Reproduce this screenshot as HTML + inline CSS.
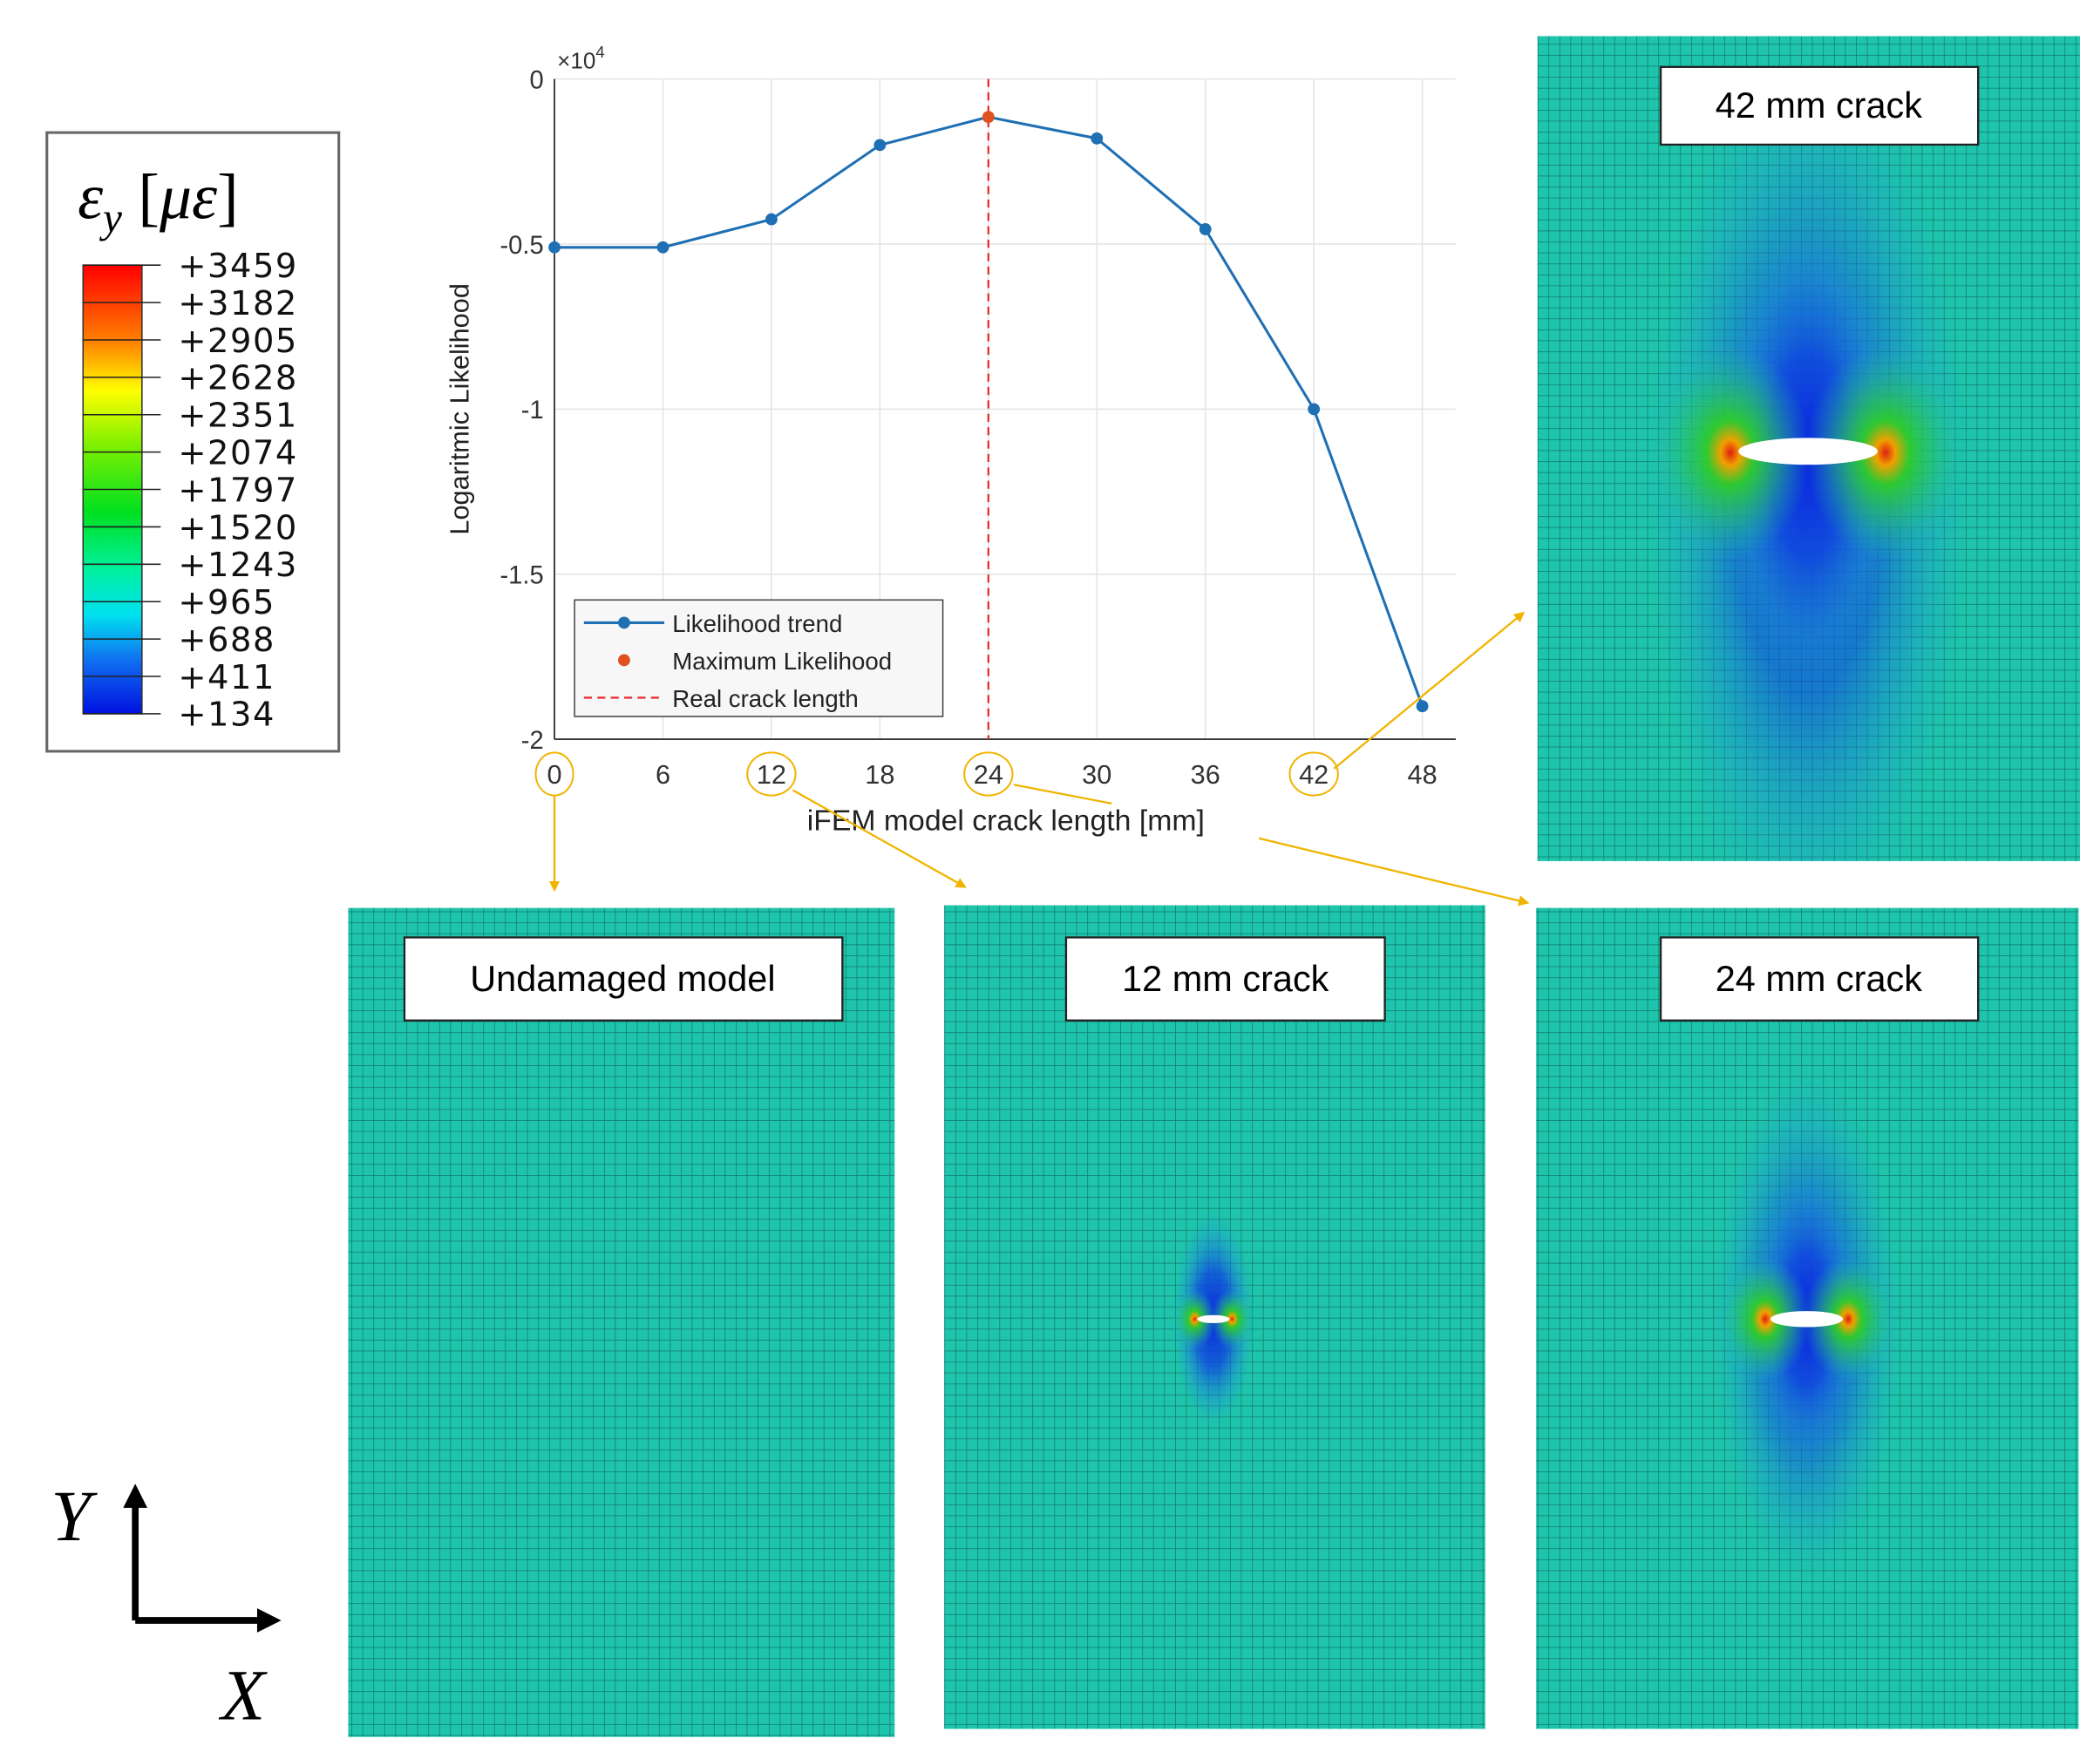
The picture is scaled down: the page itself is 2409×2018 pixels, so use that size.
<!DOCTYPE html>
<html><head><meta charset="utf-8"><style>
html,body{margin:0;padding:0;background:#fff;}
svg{display:block;}
</style></head><body>
<svg id="root" width="2409" height="2018" viewBox="0 0 1568 1313.5" xmlns="http://www.w3.org/2000/svg" style="font-family:'Liberation Sans',sans-serif">
<defs>
<pattern id="mesh" width="8.2" height="8.2" patternUnits="userSpaceOnUse">
<rect width="8.2" height="8.2" fill="#1ec4ac"/>
<path d="M0 0H8.2M0 0V8.2" stroke="#0f7868" stroke-width="0.9" fill="none"/>
</pattern>
<clipPath id="clip42"><rect x="1148" y="27" width="405" height="616"/></clipPath>
<clipPath id="clip24"><rect x="1147" y="678" width="405" height="613"/></clipPath>
<radialGradient id="blueG"><stop offset="0" stop-color="#0a20e0" stop-opacity="0.95"/><stop offset="0.45" stop-color="#1048e0" stop-opacity="0.8"/><stop offset="0.8" stop-color="#2090d8" stop-opacity="0.35"/><stop offset="1" stop-color="#20a0d0" stop-opacity="0"/></radialGradient>
<radialGradient id="lobeG"><stop offset="0" stop-color="#e02010"/><stop offset="0.12" stop-color="#f0a000"/><stop offset="0.3" stop-color="#30d020" stop-opacity="0.9"/><stop offset="1" stop-color="#20c8a0" stop-opacity="0"/></radialGradient>
<linearGradient id="cbar" x1="0" y1="0" x2="0" y2="1">
<stop offset="0" stop-color="#ff0000"/><stop offset="0.17" stop-color="#ff8000"/><stop offset="0.28" stop-color="#ffff00"/><stop offset="0.4" stop-color="#80f000"/><stop offset="0.55" stop-color="#00e020"/><stop offset="0.68" stop-color="#00f0a0"/><stop offset="0.78" stop-color="#00e0f0"/><stop offset="0.88" stop-color="#1070f0"/><stop offset="1" stop-color="#0010e0"/>
</linearGradient>
<marker id="arr" markerWidth="8" markerHeight="8" refX="6" refY="4" orient="auto" markerUnits="userSpaceOnUse"><path d="M0 0L8 4L0 8z" fill="#f0b400"/></marker>
</defs>

<g>
<rect x="35" y="99" width="218" height="462" fill="#fff" stroke="#666" stroke-width="2"/>
<text x="58" y="163" style="font-family:'Liberation Serif',serif;font-style:italic;font-size:48px">ε<tspan style="font-size:32px" dy="10">y</tspan><tspan dy="-10" style="font-style:normal"> [</tspan>με<tspan style="font-style:normal">]</tspan></text>
<rect x="62" y="198" width="44" height="335" fill="url(#cbar)" stroke="#333" stroke-width="1"/>
<g id="cbticks"></g>
</g>

<g id="chart"></g>

<g>
<rect x="1148" y="27" width="405" height="616" fill="url(#mesh)"/>
<g clip-path="url(#clip42)">
<ellipse cx="1350" cy="370" rx="120" ry="330" fill="url(#blueG)" opacity="0.75"/>
<ellipse cx="1350" cy="340" rx="65" ry="170" fill="url(#blueG)"/>
<ellipse cx="1292" cy="338" rx="60" ry="80" fill="url(#lobeG)"/>
<ellipse cx="1408" cy="338" rx="60" ry="80" fill="url(#lobeG)"/>
</g>
<ellipse cx="1350" cy="337" rx="52" ry="10" fill="#fff"/>
<rect x="1240" y="50" width="237" height="58" fill="#fff" stroke="#222" stroke-width="1.5"/>
<text x="1358" y="88" style="font-size:27px" text-anchor="middle">42 mm crack</text>
</g>
<g>
<rect x="260" y="678" width="408" height="619" fill="url(#mesh)"/>
<rect x="302" y="700" width="327" height="62" fill="#fff" stroke="#222" stroke-width="1.5"/>
<text x="465" y="740" style="font-size:27px" text-anchor="middle">Undamaged model</text>
</g>
<g>
<rect x="705" y="676" width="404" height="615" fill="url(#mesh)"/>
<ellipse cx="906" cy="985" rx="30" ry="80" fill="url(#blueG)"/>
<ellipse cx="892" cy="985" rx="16" ry="22" fill="url(#lobeG)"/>
<ellipse cx="920" cy="985" rx="16" ry="22" fill="url(#lobeG)"/>
<ellipse cx="906" cy="985" rx="12" ry="3" fill="#fff"/>
<rect x="796" y="700" width="238" height="62" fill="#fff" stroke="#222" stroke-width="1.5"/>
<text x="915" y="740" style="font-size:27px" text-anchor="middle">12 mm crack</text>
</g>
<g>
<rect x="1147" y="678" width="405" height="613" fill="url(#mesh)"/>
<g clip-path="url(#clip24)">
<ellipse cx="1349" cy="990" rx="70" ry="190" fill="url(#blueG)" opacity="0.75"/>
<ellipse cx="1349" cy="985" rx="40" ry="110" fill="url(#blueG)"/>
<ellipse cx="1318" cy="985" rx="34" ry="46" fill="url(#lobeG)"/>
<ellipse cx="1380" cy="985" rx="34" ry="46" fill="url(#lobeG)"/>
</g>
<ellipse cx="1349" cy="985" rx="27" ry="6" fill="#fff"/>
<rect x="1240" y="700" width="237" height="62" fill="#fff" stroke="#222" stroke-width="1.5"/>
<text x="1358" y="740" style="font-size:27px" text-anchor="middle">24 mm crack</text>
</g>

<g stroke="#f0b400" stroke-width="1.5" fill="none">
<line x1="414" y1="594" x2="414" y2="664" marker-end="url(#arr)"/>
<line x1="592" y1="590" x2="720" y2="662" marker-end="url(#arr)"/>
<line x1="757" y1="586" x2="830" y2="600"/>
<line x1="940" y1="626" x2="1140" y2="674" marker-end="url(#arr)"/>
<line x1="996" y1="574" x2="1137" y2="458" marker-end="url(#arr)"/>
</g>

<g>
<line x1="101" y1="1210" x2="101" y2="1122" stroke="#000" stroke-width="5"/>
<path d="M101 1108L92 1126L110 1126z" fill="#000"/>
<line x1="101" y1="1210" x2="195" y2="1210" stroke="#000" stroke-width="5"/>
<path d="M210 1210L192 1201L192 1219z" fill="#000"/>
<text x="38" y="1150" style="font-family:'Liberation Serif',serif;font-style:italic;font-size:54px">Y</text>
<text x="165" y="1284" style="font-family:'Liberation Serif',serif;font-style:italic;font-size:54px">X</text>
</g>
</svg>
<script>
const xCats=[0,6,12,18,24,30,36,42,48];
const yVals=[-0.51,-0.51,-0.425,-0.2,-0.115,-0.18,-0.455,-1.0,-1.9];
const yTicks=[0,-0.5,-1,-1.5,-2];
const yTickLabels=["0","-0.5","-1","-1.5","-2"];
const maxIndex=4;
const realCrack=24;
const cbLabels=["+3459","+3182","+2905","+2628","+2351","+2074","+1797","+1520","+1243","+965","+688","+411","+134"];

const NS="http://www.w3.org/2000/svg";
function mk(tag,attrs,parent){const e=document.createElementNS(NS,tag);for(const k in attrs)e.setAttribute(k,attrs[k]);parent.appendChild(e);return e;}
const L=414,R=1087,T=59,B=552;
const xs=v=>L+(v-0)/(48)*(1062-L);
const ys=v=>T+(0-v)/2*(B-T);
const g=document.getElementById('chart');
mk('rect',{x:L,y:T,width:R-L,height:B-T,fill:'#fff'},g);
yTicks.forEach((t,i)=>{
 const l=mk('line',{x1:L,x2:R,y1:ys(t),y2:ys(t),stroke:'#e4e4e4','stroke-width':1},g);
 
 
 const tx=mk('text',{x:L-8,y:ys(t)+7,'text-anchor':'end',fill:'#333',style:'font-size:19px'},g);
 tx.textContent=yTickLabels[i];
 
 
});
xCats.forEach(c=>{
 const l=mk('line',{x1:xs(c),x2:xs(c),y1:T,y2:B,stroke:'#e4e4e4','stroke-width':1},g);
 
 
 const tx=mk('text',{x:xs(c),y:B+33,'text-anchor':'middle',fill:'#333',style:'font-size:20px'},g);
 tx.textContent=String(c);
 
 
 if([0,12,24,42].includes(c)){
  const ci=mk('ellipse',{cx:xs(c),cy:B+26,rx:c<10?14:18,ry:16,fill:'none',stroke:'#f0b400','stroke-width':1.3},g);
  
  
 }
});
mk('line',{x1:L,x2:R,y1:B,y2:B,stroke:'#333','stroke-width':1.2},g);
mk('line',{x1:L,x2:L,y1:T,y2:B,stroke:'#333','stroke-width':1.2},g);
const ex=mk('text',{x:L+2,y:T-8,fill:'#333',style:'font-size:17px'},g);
ex.innerHTML='×10<tspan style="font-size:12px" dy="-8">4</tspan>';


const yt=mk('text',{x:0,y:0,'text-anchor':'middle',fill:'#222',style:'font-size:20px',transform:`translate(350,${(T+B)/2}) rotate(-90)`},g);
yt.textContent='Logaritmic Likelihood';


const xt=mk('text',{x:751,y:620,'text-anchor':'middle',fill:'#222',style:'font-size:22px'},g);
xt.textContent='iFEM model crack length [mm]';


const rl=mk('line',{x1:xs(realCrack),x2:xs(realCrack),y1:T,y2:B,stroke:'#e83030','stroke-width':1.5,'stroke-dasharray':'6 4'},g);


const pl=mk('polyline',{points:xCats.map((c,i)=>xs(c)+','+ys(yVals[i])).join(' '),fill:'none',stroke:'#1f6fb4','stroke-width':2},g);


xCats.forEach((c,i)=>{
 const p=mk('circle',{cx:xs(c),cy:ys(yVals[i]),r:4.5,fill:i===maxIndex?'#e05020':'#1f6fb4'},g);
 
 
});
const lg=mk('g',{},g);


mk('rect',{x:429,y:448,width:275,height:87,fill:'#f7f7f7',stroke:'#444','stroke-width':1},lg);
mk('line',{x1:436,x2:496,y1:465,y2:465,stroke:'#1f6fb4','stroke-width':2},lg);
mk('circle',{cx:466,cy:465,r:4.5,fill:'#1f6fb4'},lg);
mk('circle',{cx:466,cy:493,r:4.5,fill:'#e05020'},lg);
mk('line',{x1:436,x2:496,y1:521,y2:521,stroke:'#e83030','stroke-width':1.5,'stroke-dasharray':'6 4'},lg);
[['Likelihood trend',472],['Maximum Likelihood',500],['Real crack length',528]].forEach(([t,y])=>{
 const tx=mk('text',{x:502,y:y,fill:'#222',style:'font-size:18px'},lg);tx.textContent=t;
 
 
});
const cb=document.getElementById('cbticks');
cbLabels.forEach((t,i)=>{
 const y=198+i*(335/12);
 mk('line',{x1:62,x2:120,y1:y,y2:y,stroke:'#222','stroke-width':1},cb);
 const tx=mk('text',{x:133,y:y+9,fill:'#111',style:"font-family:'DejaVu Sans',sans-serif;font-size:25px;letter-spacing:1px"},cb);
 tx.textContent=t;
 
 
});
</script>
</body></html>
